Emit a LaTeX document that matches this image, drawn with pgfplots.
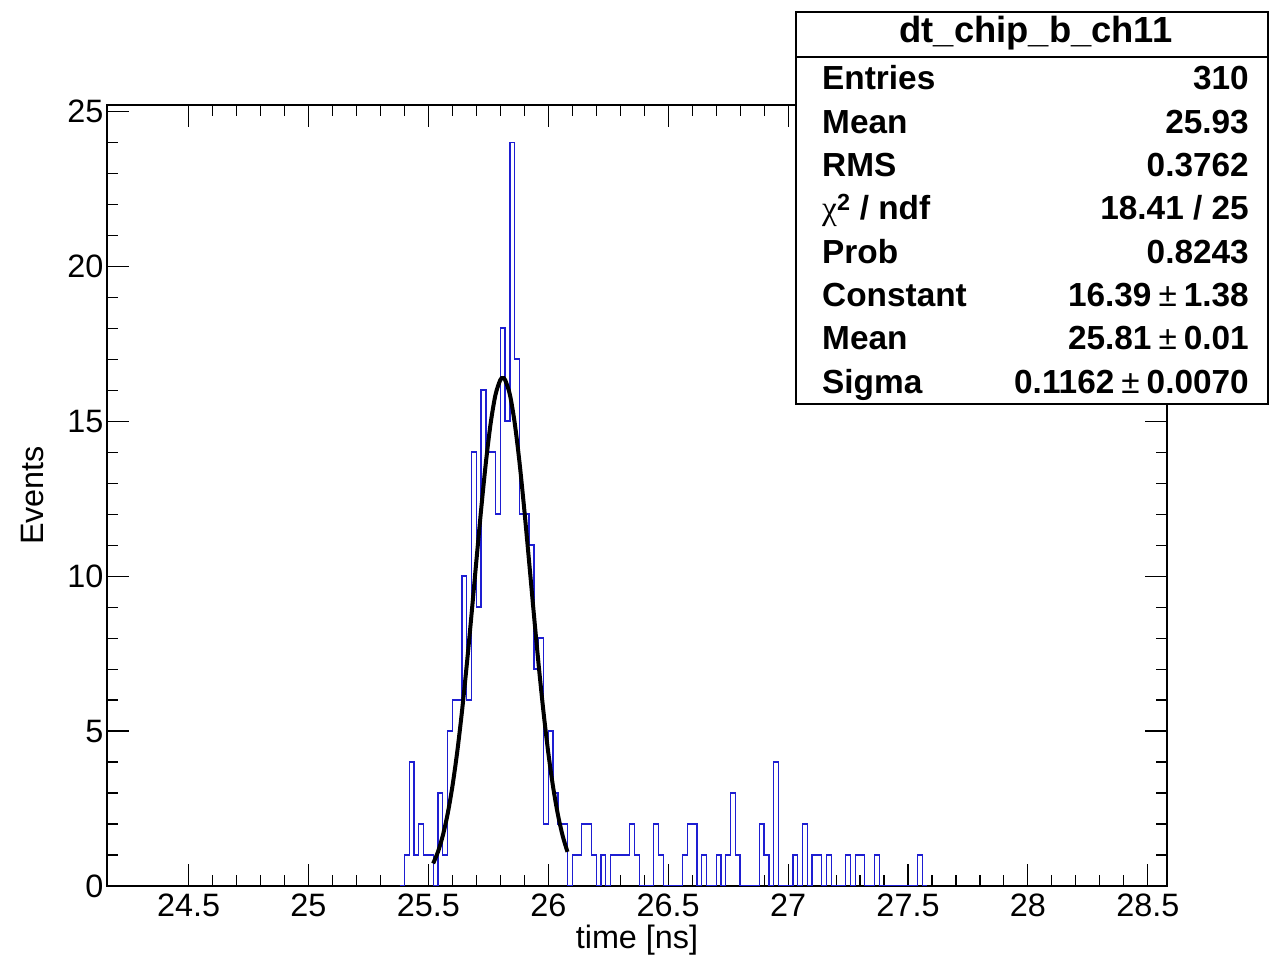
\documentclass[border=0pt]{standalone}
\usepackage{fontspec}
\setmainfont{Liberation Sans}
\newfontfamily\greekfont{Liberation Serif}
\usepackage{pgfplots}
\pgfplotsset{compat=1.18}
\definecolor{histblue}{RGB}{30,30,210}
\begin{document}
\begin{tikzpicture}
\path[use as bounding box] (-107bp,-74bp) rectangle (1165bp,886bp);
\begin{axis}[
  at={(0,0)}, anchor=south west,
  scale only axis, width=1060bp, height=781bp,
  xmin=24.16, xmax=28.58, ymin=0, ymax=25.2,
  xtick={24.5,25,25.5,26,26.5,27,27.5,28,28.5},
  minor x tick num=4,
  ytick={0,5,10,15,20,25},
  minor y tick num=4,
  major tick length=22bp, minor tick length=11bp,
  tick align=inside,
  tick style={black, line width=1.1bp},
  axis line style={line width=1.4bp},
  /pgf/number format/assume math mode=true,
  ticklabel style={font=\fontsize{32.5}{38}\selectfont},
  xticklabel style={yshift=-4bp},
  yticklabel style={xshift=0bp},
  xlabel={time [ns]}, ylabel={Events},
  every axis x label/.style={at={(axis description cs:0.5,-0.0691)}, anchor=center, font=\fontsize{32.5}{38}\selectfont},
  every axis y label/.style={at={(axis description cs:-0.0698,0.5)}, anchor=center, rotate=90, font=\fontsize{32.5}{38}\selectfont},
]
\addplot[histblue, line width=1.3bp, const plot] coordinates {
(25.38,0) (25.40,1) (25.42,4) (25.44,1) (25.46,2) (25.48,1) (25.50,1) (25.52,0)
(25.54,3) (25.56,1) (25.58,5) (25.60,6) (25.62,6) (25.64,10) (25.66,6) (25.68,14)
(25.70,9) (25.72,16) (25.74,14) (25.76,14) (25.78,12) (25.80,18) (25.82,15) (25.84,24)
(25.86,17) (25.88,12) (25.90,12) (25.92,11) (25.94,7) (25.96,8) (25.98,2) (26.00,5)
(26.02,3) (26.04,2) (26.06,2) (26.08,0) (26.10,1) (26.12,1) (26.14,2) (26.16,2)
(26.18,1) (26.20,0) (26.22,1) (26.24,0) (26.26,1) (26.28,1) (26.30,1) (26.32,1)
(26.34,2) (26.36,1) (26.38,0) (26.40,0) (26.42,0) (26.44,2) (26.46,1) (26.48,0)
(26.50,0) (26.52,0) (26.54,0) (26.56,1) (26.58,2) (26.60,2) (26.62,0) (26.64,1)
(26.66,0) (26.68,0) (26.70,1) (26.72,0) (26.74,1) (26.76,3) (26.78,1) (26.80,0)
(26.82,0) (26.84,0) (26.86,0) (26.88,2) (26.90,1) (26.92,0) (26.94,4) (26.96,0)
(26.98,0) (27.00,0) (27.02,1) (27.04,0) (27.06,2) (27.08,0) (27.10,1) (27.12,1)
(27.14,0) (27.16,1) (27.18,0) (27.20,0) (27.22,0) (27.24,1) (27.26,0) (27.28,1)
(27.30,1) (27.32,0) (27.34,0) (27.36,1) (27.38,0) (27.40,0) (27.42,0) (27.44,0)
(27.46,0) (27.48,0) (27.50,0) (27.52,0) (27.54,1) (27.56,0) (27.58,0)
};
\addplot[black, line width=4bp, smooth] coordinates {
(25.52,0.728) (25.54,1.102) (25.56,1.620) (25.58,2.311) (25.60,3.201) (25.62,4.305)
(25.64,5.621) (25.66,7.124) (25.68,8.766) (25.70,10.471) (25.72,12.143) (25.74,13.671)
(25.76,14.941) (25.78,15.853) (25.80,16.330) (25.81,16.390) (25.82,16.330) (25.84,15.853)
(25.86,14.941) (25.88,13.671) (25.90,12.143) (25.92,10.471) (25.94,8.766) (25.96,7.124)
(25.98,5.621) (26.00,4.305) (26.02,3.201) (26.04,2.311) (26.06,1.620) (26.08,1.102)
};
\end{axis}
% statistics box
\draw[line width=1.5bp, fill=white] (689bp,482bp) rectangle (1161bp,874bp);
\draw[line width=1.5bp] (689bp,829bp) -- (1161bp,829bp);
\begin{scope}[every node/.style={inner sep=0pt, font=\fontsize{33.5}{40}\selectfont\bfseries}]
\node[anchor=base, font=\fontsize{36.5}{42}\selectfont\bfseries] at (929bp,843bp) {dt\_chip\_b\_ch11};
\node[anchor=base west] at (715bp,796bp) {Entries};
\node[anchor=base east] at (1142bp,796bp) {310};
\node[anchor=base west] at (715bp,752.7bp) {Mean};
\node[anchor=base east] at (1142bp,752.7bp) {25.93};
\node[anchor=base west] at (715bp,709.4bp) {RMS};
\node[anchor=base east] at (1142bp,709.4bp) {0.3762};
\node[anchor=base west] at (715bp,666.1bp) {{\mdseries\greekfont χ}\textsuperscript{2} / ndf};
\node[anchor=base east] at (1142bp,666.1bp) {18.41 / 25};
\node[anchor=base west] at (715bp,622.8bp) {Prob};
\node[anchor=base east] at (1142bp,622.8bp) {0.8243};
\node[anchor=base west] at (715bp,579.5bp) {Constant};
\node[anchor=base east] at (1142bp,579.5bp) {16.39\hspace{7bp}{\mdseries ±}\hspace{7bp}1.38};
\node[anchor=base west] at (715bp,536.2bp) {Mean};
\node[anchor=base east] at (1142bp,536.2bp) {25.81\hspace{7bp}{\mdseries ±}\hspace{7bp}0.01};
\node[anchor=base west] at (715bp,492.9bp) {Sigma};
\node[anchor=base east] at (1142bp,492.9bp) {0.1162\hspace{7bp}{\mdseries ±}\hspace{7bp}0.0070};
\end{scope}
\end{tikzpicture}
\end{document}
